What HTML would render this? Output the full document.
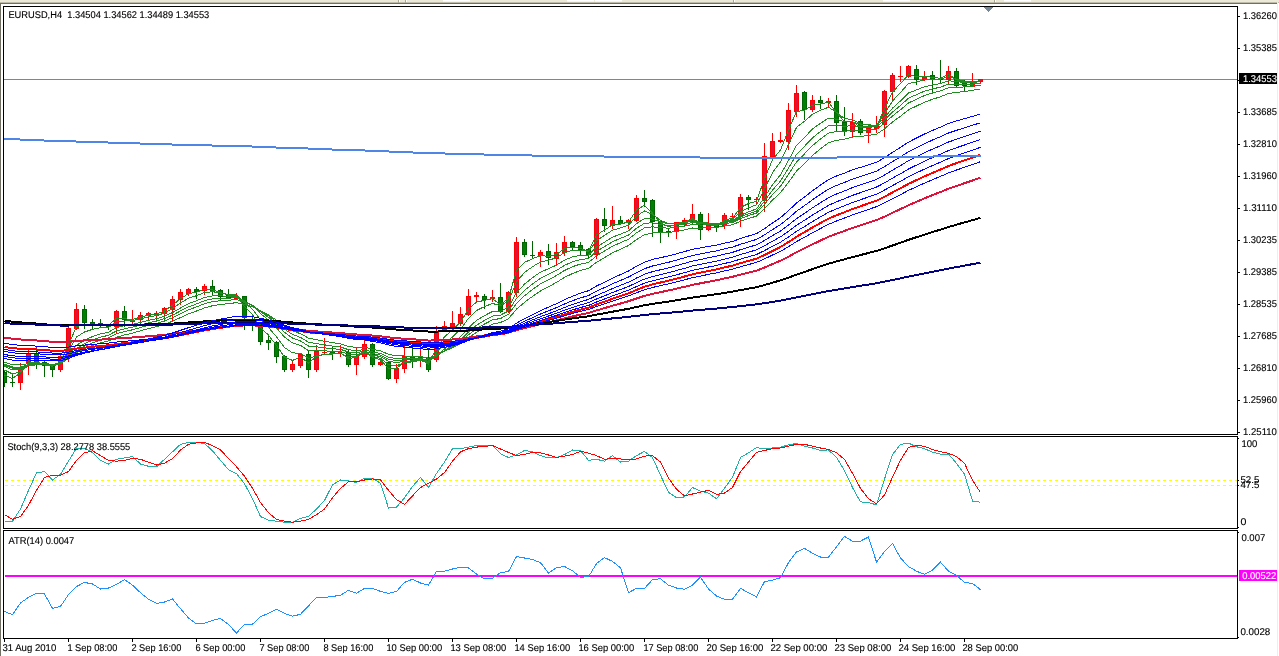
<!DOCTYPE html>
<html><head><meta charset="utf-8"><title>EURUSD,H4</title>
<style>
html,body{margin:0;padding:0;background:#fff;}
body{width:1279px;height:656px;overflow:hidden;position:relative;}
svg{display:block;position:absolute;left:0;top:0;}
</style></head><body>
<svg width="1279" height="656" viewBox="0 0 1279 656"><defs><clipPath id="cm"><rect x="4" y="7" width="1233" height="427"/></clipPath><clipPath id="cs"><rect x="4" y="437" width="1233" height="91"/></clipPath><clipPath id="ca"><rect x="4" y="531" width="1233" height="107"/></clipPath></defs><g clip-path="url(#cm)"><rect x="4" y="79" width="1233" height="1" fill="#778899"/><rect x="4" y="371" width="1" height="16" fill="#006400"/><rect x="2" y="372" width="5" height="11" fill="#006400"/><rect x="3" y="373" width="3" height="9" fill="#008000"/><rect x="12" y="374" width="1" height="13" fill="#006400"/><rect x="10" y="382" width="5" height="1" fill="#006400"/><rect x="20" y="363" width="1" height="27" fill="#ff0000"/><rect x="18" y="367" width="5" height="16" fill="#ff0000"/><rect x="19" y="368" width="3" height="14" fill="#dc143c"/><rect x="28" y="349" width="1" height="26" fill="#ff0000"/><rect x="26" y="353" width="5" height="10" fill="#ff0000"/><rect x="27" y="354" width="3" height="8" fill="#dc143c"/><rect x="36" y="346" width="1" height="23" fill="#006400"/><rect x="34" y="353" width="5" height="10" fill="#006400"/><rect x="35" y="354" width="3" height="8" fill="#008000"/><rect x="44" y="361" width="1" height="16" fill="#006400"/><rect x="42" y="362" width="5" height="4" fill="#006400"/><rect x="43" y="363" width="3" height="2" fill="#008000"/><rect x="52" y="364" width="1" height="13" fill="#006400"/><rect x="50" y="366" width="5" height="4" fill="#006400"/><rect x="51" y="367" width="3" height="2" fill="#008000"/><rect x="60" y="355" width="1" height="17" fill="#ff0000"/><rect x="58" y="356" width="5" height="14" fill="#ff0000"/><rect x="59" y="357" width="3" height="12" fill="#dc143c"/><rect x="68" y="326" width="1" height="36" fill="#ff0000"/><rect x="66" y="328" width="5" height="29" fill="#ff0000"/><rect x="67" y="329" width="3" height="27" fill="#dc143c"/><rect x="76" y="303" width="1" height="27" fill="#ff0000"/><rect x="74" y="309" width="5" height="20" fill="#ff0000"/><rect x="75" y="310" width="3" height="18" fill="#dc143c"/><rect x="84" y="305" width="1" height="24" fill="#006400"/><rect x="82" y="309" width="5" height="14" fill="#006400"/><rect x="83" y="310" width="3" height="12" fill="#008000"/><rect x="92" y="319" width="1" height="10" fill="#006400"/><rect x="90" y="322" width="5" height="3" fill="#006400"/><rect x="91" y="323" width="3" height="1" fill="#008000"/><rect x="100" y="319" width="1" height="9" fill="#006400"/><rect x="98" y="323" width="5" height="2" fill="#006400"/><rect x="108" y="325" width="1" height="5" fill="#006400"/><rect x="106" y="326" width="5" height="1" fill="#006400"/><rect x="116" y="310" width="1" height="23" fill="#ff0000"/><rect x="114" y="311" width="5" height="16" fill="#ff0000"/><rect x="115" y="312" width="3" height="14" fill="#dc143c"/><rect x="124" y="306" width="1" height="21" fill="#006400"/><rect x="122" y="311" width="5" height="9" fill="#006400"/><rect x="123" y="312" width="3" height="7" fill="#008000"/><rect x="132" y="310" width="1" height="15" fill="#ff0000"/><rect x="130" y="320" width="5" height="2" fill="#ff0000"/><rect x="140" y="312" width="1" height="12" fill="#ff0000"/><rect x="138" y="315" width="5" height="5" fill="#ff0000"/><rect x="139" y="316" width="3" height="3" fill="#dc143c"/><rect x="148" y="312" width="1" height="9" fill="#ff0000"/><rect x="146" y="313" width="5" height="3" fill="#ff0000"/><rect x="147" y="314" width="3" height="1" fill="#dc143c"/><rect x="156" y="311" width="1" height="9" fill="#ff0000"/><rect x="154" y="313" width="5" height="3" fill="#ff0000"/><rect x="155" y="314" width="3" height="1" fill="#dc143c"/><rect x="164" y="307" width="1" height="15" fill="#ff0000"/><rect x="162" y="308" width="5" height="6" fill="#ff0000"/><rect x="163" y="309" width="3" height="4" fill="#dc143c"/><rect x="172" y="296" width="1" height="26" fill="#ff0000"/><rect x="170" y="299" width="5" height="11" fill="#ff0000"/><rect x="171" y="300" width="3" height="9" fill="#dc143c"/><rect x="180" y="289" width="1" height="16" fill="#ff0000"/><rect x="178" y="292" width="5" height="8" fill="#ff0000"/><rect x="179" y="293" width="3" height="6" fill="#dc143c"/><rect x="188" y="288" width="1" height="8" fill="#ff0000"/><rect x="186" y="289" width="5" height="5" fill="#ff0000"/><rect x="187" y="290" width="3" height="3" fill="#dc143c"/><rect x="196" y="287" width="1" height="12" fill="#006400"/><rect x="194" y="289" width="5" height="3" fill="#006400"/><rect x="195" y="290" width="3" height="1" fill="#008000"/><rect x="204" y="284" width="1" height="11" fill="#ff0000"/><rect x="202" y="286" width="5" height="5" fill="#ff0000"/><rect x="203" y="287" width="3" height="3" fill="#dc143c"/><rect x="212" y="280" width="1" height="15" fill="#006400"/><rect x="210" y="286" width="5" height="6" fill="#006400"/><rect x="211" y="287" width="3" height="4" fill="#008000"/><rect x="220" y="289" width="1" height="12" fill="#006400"/><rect x="218" y="290" width="5" height="7" fill="#006400"/><rect x="219" y="291" width="3" height="5" fill="#008000"/><rect x="228" y="289" width="1" height="10" fill="#006400"/><rect x="226" y="294" width="5" height="5" fill="#006400"/><rect x="227" y="295" width="3" height="3" fill="#008000"/><rect x="236" y="293" width="1" height="7" fill="#ff0000"/><rect x="234" y="296" width="5" height="3" fill="#ff0000"/><rect x="235" y="297" width="3" height="1" fill="#dc143c"/><rect x="244" y="296" width="1" height="34" fill="#006400"/><rect x="242" y="296" width="5" height="22" fill="#006400"/><rect x="243" y="297" width="3" height="20" fill="#008000"/><rect x="252" y="317" width="1" height="14" fill="#006400"/><rect x="250" y="322" width="5" height="2" fill="#006400"/><rect x="260" y="323" width="1" height="22" fill="#006400"/><rect x="258" y="324" width="5" height="18" fill="#006400"/><rect x="259" y="325" width="3" height="16" fill="#008000"/><rect x="268" y="334" width="1" height="16" fill="#006400"/><rect x="266" y="340" width="5" height="3" fill="#006400"/><rect x="267" y="341" width="3" height="1" fill="#008000"/><rect x="276" y="341" width="1" height="22" fill="#006400"/><rect x="274" y="342" width="5" height="15" fill="#006400"/><rect x="275" y="343" width="3" height="13" fill="#008000"/><rect x="284" y="355" width="1" height="17" fill="#006400"/><rect x="282" y="356" width="5" height="14" fill="#006400"/><rect x="283" y="357" width="3" height="12" fill="#008000"/><rect x="292" y="361" width="1" height="11" fill="#ff0000"/><rect x="290" y="364" width="5" height="6" fill="#ff0000"/><rect x="291" y="365" width="3" height="4" fill="#dc143c"/><rect x="300" y="353" width="1" height="15" fill="#ff0000"/><rect x="298" y="354" width="5" height="12" fill="#ff0000"/><rect x="299" y="355" width="3" height="10" fill="#dc143c"/><rect x="308" y="350" width="1" height="28" fill="#006400"/><rect x="306" y="354" width="5" height="16" fill="#006400"/><rect x="307" y="355" width="3" height="14" fill="#008000"/><rect x="316" y="345" width="1" height="27" fill="#ff0000"/><rect x="314" y="351" width="5" height="19" fill="#ff0000"/><rect x="315" y="352" width="3" height="17" fill="#dc143c"/><rect x="324" y="338" width="1" height="16" fill="#ff0000"/><rect x="322" y="352" width="5" height="1" fill="#ff0000"/><rect x="332" y="347" width="1" height="13" fill="#006400"/><rect x="330" y="351" width="5" height="3" fill="#006400"/><rect x="331" y="352" width="3" height="1" fill="#008000"/><rect x="340" y="345" width="1" height="12" fill="#ff0000"/><rect x="338" y="352" width="5" height="1" fill="#ff0000"/><rect x="348" y="350" width="1" height="17" fill="#006400"/><rect x="346" y="352" width="5" height="13" fill="#006400"/><rect x="347" y="353" width="3" height="11" fill="#008000"/><rect x="356" y="348" width="1" height="27" fill="#ff0000"/><rect x="354" y="356" width="5" height="9" fill="#ff0000"/><rect x="355" y="357" width="3" height="7" fill="#dc143c"/><rect x="364" y="340" width="1" height="19" fill="#ff0000"/><rect x="362" y="344" width="5" height="13" fill="#ff0000"/><rect x="363" y="345" width="3" height="11" fill="#dc143c"/><rect x="372" y="343" width="1" height="24" fill="#006400"/><rect x="370" y="344" width="5" height="21" fill="#006400"/><rect x="371" y="345" width="3" height="19" fill="#008000"/><rect x="380" y="359" width="1" height="7" fill="#ff0000"/><rect x="378" y="362" width="5" height="3" fill="#ff0000"/><rect x="379" y="363" width="3" height="1" fill="#dc143c"/><rect x="388" y="361" width="1" height="19" fill="#006400"/><rect x="386" y="362" width="5" height="17" fill="#006400"/><rect x="387" y="363" width="3" height="15" fill="#008000"/><rect x="396" y="364" width="1" height="19" fill="#ff0000"/><rect x="394" y="368" width="5" height="11" fill="#ff0000"/><rect x="395" y="369" width="3" height="9" fill="#dc143c"/><rect x="404" y="346" width="1" height="27" fill="#ff0000"/><rect x="402" y="356" width="5" height="13" fill="#ff0000"/><rect x="403" y="357" width="3" height="11" fill="#dc143c"/><rect x="412" y="348" width="1" height="20" fill="#006400"/><rect x="410" y="356" width="5" height="6" fill="#006400"/><rect x="411" y="357" width="3" height="4" fill="#008000"/><rect x="420" y="347" width="1" height="20" fill="#ff0000"/><rect x="418" y="357" width="5" height="2" fill="#ff0000"/><rect x="428" y="350" width="1" height="22" fill="#006400"/><rect x="426" y="357" width="5" height="13" fill="#006400"/><rect x="427" y="358" width="3" height="11" fill="#008000"/><rect x="436" y="326" width="1" height="36" fill="#ff0000"/><rect x="434" y="332" width="5" height="28" fill="#ff0000"/><rect x="435" y="333" width="3" height="26" fill="#dc143c"/><rect x="444" y="321" width="1" height="11" fill="#ff0000"/><rect x="442" y="326" width="5" height="5" fill="#ff0000"/><rect x="443" y="327" width="3" height="3" fill="#dc143c"/><rect x="452" y="311" width="1" height="18" fill="#ff0000"/><rect x="450" y="323" width="5" height="4" fill="#ff0000"/><rect x="451" y="324" width="3" height="2" fill="#dc143c"/><rect x="460" y="307" width="1" height="19" fill="#ff0000"/><rect x="458" y="314" width="5" height="10" fill="#ff0000"/><rect x="459" y="315" width="3" height="8" fill="#dc143c"/><rect x="468" y="289" width="1" height="27" fill="#ff0000"/><rect x="466" y="296" width="5" height="19" fill="#ff0000"/><rect x="467" y="297" width="3" height="17" fill="#dc143c"/><rect x="476" y="292" width="1" height="10" fill="#ff0000"/><rect x="474" y="295" width="5" height="2" fill="#ff0000"/><rect x="484" y="294" width="1" height="15" fill="#006400"/><rect x="482" y="296" width="5" height="4" fill="#006400"/><rect x="483" y="297" width="3" height="2" fill="#008000"/><rect x="492" y="290" width="1" height="12" fill="#ff0000"/><rect x="490" y="297" width="5" height="2" fill="#ff0000"/><rect x="500" y="283" width="1" height="30" fill="#006400"/><rect x="498" y="297" width="5" height="15" fill="#006400"/><rect x="499" y="298" width="3" height="13" fill="#008000"/><rect x="508" y="291" width="1" height="22" fill="#ff0000"/><rect x="506" y="292" width="5" height="20" fill="#ff0000"/><rect x="507" y="293" width="3" height="18" fill="#dc143c"/><rect x="516" y="237" width="1" height="60" fill="#ff0000"/><rect x="514" y="242" width="5" height="51" fill="#ff0000"/><rect x="515" y="243" width="3" height="49" fill="#dc143c"/><rect x="524" y="239" width="1" height="18" fill="#006400"/><rect x="522" y="242" width="5" height="13" fill="#006400"/><rect x="523" y="243" width="3" height="11" fill="#008000"/><rect x="532" y="241" width="1" height="18" fill="#006400"/><rect x="530" y="255" width="5" height="1" fill="#006400"/><rect x="540" y="250" width="1" height="17" fill="#ff0000"/><rect x="538" y="252" width="5" height="4" fill="#ff0000"/><rect x="539" y="253" width="3" height="2" fill="#dc143c"/><rect x="548" y="244" width="1" height="21" fill="#006400"/><rect x="546" y="251" width="5" height="7" fill="#006400"/><rect x="547" y="252" width="3" height="5" fill="#008000"/><rect x="556" y="243" width="1" height="22" fill="#ff0000"/><rect x="554" y="252" width="5" height="7" fill="#ff0000"/><rect x="555" y="253" width="3" height="5" fill="#dc143c"/><rect x="564" y="236" width="1" height="20" fill="#ff0000"/><rect x="562" y="242" width="5" height="11" fill="#ff0000"/><rect x="563" y="243" width="3" height="9" fill="#dc143c"/><rect x="572" y="241" width="1" height="9" fill="#006400"/><rect x="570" y="242" width="5" height="5" fill="#006400"/><rect x="571" y="243" width="3" height="3" fill="#008000"/><rect x="580" y="242" width="1" height="14" fill="#006400"/><rect x="578" y="245" width="5" height="5" fill="#006400"/><rect x="579" y="246" width="3" height="3" fill="#008000"/><rect x="588" y="248" width="1" height="11" fill="#006400"/><rect x="586" y="249" width="5" height="6" fill="#006400"/><rect x="587" y="250" width="3" height="4" fill="#008000"/><rect x="596" y="218" width="1" height="41" fill="#ff0000"/><rect x="594" y="219" width="5" height="36" fill="#ff0000"/><rect x="595" y="220" width="3" height="34" fill="#dc143c"/><rect x="604" y="208" width="1" height="24" fill="#006400"/><rect x="602" y="219" width="5" height="7" fill="#006400"/><rect x="603" y="220" width="3" height="5" fill="#008000"/><rect x="612" y="206" width="1" height="23" fill="#ff0000"/><rect x="610" y="220" width="5" height="6" fill="#ff0000"/><rect x="611" y="221" width="3" height="4" fill="#dc143c"/><rect x="620" y="216" width="1" height="9" fill="#006400"/><rect x="618" y="220" width="5" height="4" fill="#006400"/><rect x="619" y="221" width="3" height="2" fill="#008000"/><rect x="628" y="219" width="1" height="10" fill="#ff0000"/><rect x="626" y="220" width="5" height="3" fill="#ff0000"/><rect x="627" y="221" width="3" height="1" fill="#dc143c"/><rect x="636" y="195" width="1" height="27" fill="#ff0000"/><rect x="634" y="198" width="5" height="23" fill="#ff0000"/><rect x="635" y="199" width="3" height="21" fill="#dc143c"/><rect x="644" y="190" width="1" height="17" fill="#006400"/><rect x="642" y="198" width="5" height="4" fill="#006400"/><rect x="643" y="199" width="3" height="2" fill="#008000"/><rect x="652" y="199" width="1" height="38" fill="#006400"/><rect x="650" y="200" width="5" height="22" fill="#006400"/><rect x="651" y="201" width="3" height="20" fill="#008000"/><rect x="660" y="220" width="1" height="23" fill="#006400"/><rect x="658" y="221" width="5" height="12" fill="#006400"/><rect x="659" y="222" width="3" height="10" fill="#008000"/><rect x="668" y="228" width="1" height="9" fill="#006400"/><rect x="666" y="231" width="5" height="1" fill="#006400"/><rect x="676" y="222" width="1" height="17" fill="#ff0000"/><rect x="674" y="222" width="5" height="10" fill="#ff0000"/><rect x="675" y="223" width="3" height="8" fill="#dc143c"/><rect x="684" y="218" width="1" height="9" fill="#ff0000"/><rect x="682" y="220" width="5" height="5" fill="#ff0000"/><rect x="683" y="221" width="3" height="3" fill="#dc143c"/><rect x="692" y="204" width="1" height="21" fill="#ff0000"/><rect x="690" y="214" width="5" height="8" fill="#ff0000"/><rect x="691" y="215" width="3" height="6" fill="#dc143c"/><rect x="700" y="212" width="1" height="28" fill="#006400"/><rect x="698" y="214" width="5" height="16" fill="#006400"/><rect x="699" y="215" width="3" height="14" fill="#008000"/><rect x="708" y="213" width="1" height="18" fill="#ff0000"/><rect x="706" y="224" width="5" height="6" fill="#ff0000"/><rect x="707" y="225" width="3" height="4" fill="#dc143c"/><rect x="716" y="223" width="1" height="9" fill="#006400"/><rect x="714" y="225" width="5" height="3" fill="#006400"/><rect x="715" y="226" width="3" height="1" fill="#008000"/><rect x="724" y="213" width="1" height="16" fill="#ff0000"/><rect x="722" y="215" width="5" height="11" fill="#ff0000"/><rect x="723" y="216" width="3" height="9" fill="#dc143c"/><rect x="732" y="213" width="1" height="7" fill="#ff0000"/><rect x="730" y="216" width="5" height="1" fill="#ff0000"/><rect x="740" y="194" width="1" height="33" fill="#ff0000"/><rect x="738" y="197" width="5" height="20" fill="#ff0000"/><rect x="739" y="198" width="3" height="18" fill="#dc143c"/><rect x="748" y="195" width="1" height="15" fill="#006400"/><rect x="746" y="197" width="5" height="3" fill="#006400"/><rect x="747" y="198" width="3" height="1" fill="#008000"/><rect x="756" y="197" width="1" height="8" fill="#ff0000"/><rect x="754" y="199" width="5" height="1" fill="#ff0000"/><rect x="764" y="143" width="1" height="69" fill="#ff0000"/><rect x="762" y="156" width="5" height="45" fill="#ff0000"/><rect x="763" y="157" width="3" height="43" fill="#dc143c"/><rect x="772" y="133" width="1" height="25" fill="#ff0000"/><rect x="770" y="141" width="5" height="16" fill="#ff0000"/><rect x="771" y="142" width="3" height="14" fill="#dc143c"/><rect x="780" y="132" width="1" height="11" fill="#ff0000"/><rect x="778" y="140" width="5" height="2" fill="#ff0000"/><rect x="788" y="103" width="1" height="47" fill="#ff0000"/><rect x="786" y="110" width="5" height="32" fill="#ff0000"/><rect x="787" y="111" width="3" height="30" fill="#dc143c"/><rect x="796" y="85" width="1" height="32" fill="#ff0000"/><rect x="794" y="93" width="5" height="19" fill="#ff0000"/><rect x="795" y="94" width="3" height="17" fill="#dc143c"/><rect x="804" y="91" width="1" height="29" fill="#006400"/><rect x="802" y="92" width="5" height="18" fill="#006400"/><rect x="803" y="93" width="3" height="16" fill="#008000"/><rect x="812" y="95" width="1" height="17" fill="#ff0000"/><rect x="810" y="100" width="5" height="10" fill="#ff0000"/><rect x="811" y="101" width="3" height="8" fill="#dc143c"/><rect x="820" y="96" width="1" height="13" fill="#006400"/><rect x="818" y="100" width="5" height="3" fill="#006400"/><rect x="819" y="101" width="3" height="1" fill="#008000"/><rect x="828" y="98" width="1" height="9" fill="#ff0000"/><rect x="826" y="101" width="5" height="2" fill="#ff0000"/><rect x="836" y="95" width="1" height="37" fill="#006400"/><rect x="834" y="101" width="5" height="22" fill="#006400"/><rect x="835" y="102" width="3" height="20" fill="#008000"/><rect x="844" y="107" width="1" height="29" fill="#006400"/><rect x="842" y="122" width="5" height="10" fill="#006400"/><rect x="843" y="123" width="3" height="8" fill="#008000"/><rect x="852" y="113" width="1" height="25" fill="#ff0000"/><rect x="850" y="122" width="5" height="10" fill="#ff0000"/><rect x="851" y="123" width="3" height="8" fill="#dc143c"/><rect x="860" y="119" width="1" height="16" fill="#006400"/><rect x="858" y="121" width="5" height="12" fill="#006400"/><rect x="859" y="122" width="3" height="10" fill="#008000"/><rect x="868" y="126" width="1" height="17" fill="#ff0000"/><rect x="866" y="128" width="5" height="5" fill="#ff0000"/><rect x="867" y="129" width="3" height="3" fill="#dc143c"/><rect x="876" y="116" width="1" height="17" fill="#ff0000"/><rect x="874" y="126" width="5" height="3" fill="#ff0000"/><rect x="875" y="127" width="3" height="1" fill="#dc143c"/><rect x="884" y="90" width="1" height="47" fill="#ff0000"/><rect x="882" y="91" width="5" height="34" fill="#ff0000"/><rect x="883" y="92" width="3" height="32" fill="#dc143c"/><rect x="892" y="73" width="1" height="29" fill="#ff0000"/><rect x="890" y="75" width="5" height="17" fill="#ff0000"/><rect x="891" y="76" width="3" height="15" fill="#dc143c"/><rect x="900" y="66" width="1" height="16" fill="#ff0000"/><rect x="898" y="76" width="5" height="1" fill="#ff0000"/><rect x="908" y="65" width="1" height="13" fill="#ff0000"/><rect x="906" y="66" width="5" height="11" fill="#ff0000"/><rect x="907" y="67" width="3" height="9" fill="#dc143c"/><rect x="916" y="65" width="1" height="20" fill="#006400"/><rect x="914" y="69" width="5" height="11" fill="#006400"/><rect x="915" y="70" width="3" height="9" fill="#008000"/><rect x="924" y="71" width="1" height="10" fill="#ff0000"/><rect x="922" y="76" width="5" height="4" fill="#ff0000"/><rect x="923" y="77" width="3" height="2" fill="#dc143c"/><rect x="932" y="71" width="1" height="21" fill="#006400"/><rect x="930" y="75" width="5" height="5" fill="#006400"/><rect x="931" y="76" width="3" height="3" fill="#008000"/><rect x="940" y="60" width="1" height="24" fill="#006400"/><rect x="938" y="78" width="5" height="2" fill="#006400"/><rect x="948" y="66" width="1" height="19" fill="#ff0000"/><rect x="946" y="71" width="5" height="9" fill="#ff0000"/><rect x="947" y="72" width="3" height="7" fill="#dc143c"/><rect x="956" y="68" width="1" height="20" fill="#006400"/><rect x="954" y="71" width="5" height="15" fill="#006400"/><rect x="955" y="72" width="3" height="13" fill="#008000"/><rect x="964" y="80" width="1" height="12" fill="#006400"/><rect x="962" y="81" width="5" height="5" fill="#006400"/><rect x="963" y="82" width="3" height="3" fill="#008000"/><rect x="972" y="73" width="1" height="14" fill="#ff0000"/><rect x="970" y="82" width="5" height="5" fill="#ff0000"/><rect x="971" y="83" width="3" height="3" fill="#dc143c"/><rect x="980" y="79" width="1" height="4" fill="#ff0000"/><rect x="978" y="79" width="5" height="3" fill="#ff0000"/><rect x="979" y="80" width="3" height="1" fill="#dc143c"/><polyline points="4.5,375 12.5,378.5 20.5,372.75 28.5,362.88 36.5,362.44 44.5,363.72 52.5,366.56 60.5,361.08 68.5,344.54 76.5,326.77 84.5,324.33 92.5,324.17 100.5,324.28 108.5,325.39 116.5,318.2 124.5,318.8 132.5,319.4 140.5,317.2 148.5,315.1 156.5,314.05 164.5,311.02 172.5,305.21 180.5,298.61 188.5,293.68 196.5,292.14 204.5,289.07 212.5,289.83 220.5,292.72 228.5,295.11 236.5,295.55 244.5,306.48 252.5,314.74 260.5,327.67 268.5,335.08 276.5,345.54 284.5,357.15 292.5,360.45 300.5,357.1 308.5,362.92 316.5,356.76 324.5,354.38 332.5,353.69 340.5,352.85 348.5,358.62 356.5,357.11 364.5,350.76 372.5,357.58 380.5,359.79 388.5,368.64 396.5,368.32 404.5,362.16 412.5,361.38 420.5,359.19 428.5,364.3 436.5,348.15 444.5,336.87 452.5,329.94 460.5,322.17 468.5,309.08 476.5,302.04 484.5,300.4 492.5,298.7 500.5,304.65 508.5,298.32 516.5,270.41 524.5,262.41 532.5,258.7 540.5,255.6 548.5,256.3 556.5,254.4 564.5,248.45 572.5,247.23 580.5,248.31 588.5,251.36 596.5,235.05 604.5,230.03 612.5,225.01 620.5,224.01 628.5,222 636.5,210 644.5,205.3 652.5,213.15 660.5,222.58 668.5,226.79 676.5,224.64 684.5,222.32 692.5,218.36 700.5,223.68 708.5,223.84 716.5,225.42 724.5,220.21 732.5,218.11 740.5,207.55 748.5,203.48 756.5,201.24 764.5,178.62 772.5,159.81 780.5,149.9 788.5,129.95 796.5,111.48 804.5,110.44 812.5,105.22 820.5,103.86 828.5,102.43 836.5,112.46 844.5,121.73 852.5,121.87 860.5,127.18 868.5,127.34 876.5,126.67 884.5,108.84 892.5,91.92 900.5,83.71 908.5,74.65 916.5,76.7 924.5,76.15 932.5,77.45 940.5,78.23 948.5,74.41 956.5,79.71 964.5,82.35 972.5,82.43 980.5,80.71" fill="none" stroke="#228b22" stroke-width="1" shape-rendering="crispEdges"/><polyline points="4.5,370 12.5,374 20.5,371.67 28.5,365.44 36.5,364.3 44.5,364.53 52.5,366.15 60.5,362.64 68.5,351.09 76.5,337.06 84.5,332.01 92.5,329.34 100.5,327.69 108.5,327.29 116.5,321.86 124.5,321.04 132.5,320.69 140.5,318.8 148.5,316.86 156.5,315.58 164.5,313.05 172.5,308.5 180.5,303 188.5,298.25 196.5,295.7 204.5,292.47 212.5,291.84 220.5,293.1 228.5,294.56 236.5,295.04 244.5,302.5 252.5,309.33 260.5,319.75 268.5,327.34 276.5,336.89 284.5,347.51 292.5,352.92 300.5,353.2 308.5,358.38 316.5,355.79 324.5,354.53 332.5,354.02 340.5,353.34 348.5,357.03 356.5,356.55 364.5,352.5 372.5,356.47 380.5,358.31 388.5,364.71 396.5,365.81 404.5,362.54 412.5,361.89 420.5,360.26 428.5,363.31 436.5,352.87 444.5,343.78 452.5,336.85 460.5,329.37 468.5,318.25 476.5,310.5 484.5,306.58 492.5,303.39 500.5,305.79 508.5,301.19 516.5,281.63 524.5,272.55 532.5,266.7 540.5,261.97 548.5,260.31 556.5,257.71 564.5,252.64 572.5,250.43 580.5,250.08 588.5,251.52 596.5,240.6 604.5,235.4 612.5,230.27 620.5,227.84 628.5,225.23 636.5,216.15 644.5,210.97 652.5,214.31 660.5,220.21 668.5,223.81 676.5,223.37 684.5,222.25 692.5,219.63 700.5,222.75 708.5,223.17 716.5,224.45 724.5,221.3 732.5,219.53 740.5,212.02 748.5,207.81 756.5,204.88 764.5,188.58 772.5,172.72 780.5,161.82 788.5,144.54 796.5,127.36 804.5,121.37 812.5,114.25 820.5,110.33 828.5,107.22 836.5,112.31 844.5,118.54 852.5,119.7 860.5,123.96 868.5,125.14 876.5,125.43 884.5,113.95 892.5,100.97 900.5,92.48 908.5,83.52 916.5,81.93 924.5,79.82 932.5,79.46 940.5,79.31 948.5,76.41 956.5,79.27 964.5,81.18 972.5,81.62 980.5,80.75" fill="none" stroke="#228b22" stroke-width="1" shape-rendering="crispEdges"/><polyline points="4.5,366.5 12.5,369.94 20.5,369.29 28.5,365.67 36.5,364.85 44.5,364.89 52.5,365.89 60.5,363.6 68.5,355.69 76.5,345.32 84.5,340.11 92.5,336.53 100.5,333.84 108.5,332.21 116.5,327.49 124.5,325.69 132.5,324.43 140.5,322.33 148.5,320.26 156.5,318.65 164.5,316.28 172.5,312.53 180.5,307.97 188.5,303.7 196.5,300.79 204.5,297.5 212.5,295.97 220.5,295.89 228.5,296.24 236.5,296.19 244.5,300.9 252.5,305.81 260.5,313.54 268.5,319.98 276.5,327.98 284.5,337.04 292.5,342.98 300.5,345.37 308.5,350.57 316.5,350.57 324.5,350.89 332.5,351.36 340.5,351.5 348.5,354.37 356.5,354.64 364.5,352.37 372.5,355.04 380.5,356.59 388.5,361.23 396.5,362.74 404.5,361.24 412.5,361.1 420.5,360.19 428.5,362.23 436.5,355.52 444.5,348.87 452.5,343.12 460.5,336.74 468.5,327.68 476.5,320.42 484.5,315.61 492.5,311.47 500.5,311.28 508.5,306.99 516.5,292.66 524.5,284.16 532.5,277.68 540.5,272.08 548.5,268.73 556.5,265.12 564.5,260.1 572.5,256.96 580.5,255.28 588.5,255.09 596.5,247.01 604.5,242.12 612.5,237.2 620.5,234.05 628.5,230.93 636.5,223.61 644.5,218.5 652.5,219.05 660.5,221.93 668.5,223.95 676.5,223.62 684.5,222.82 692.5,220.95 700.5,222.74 708.5,223.02 716.5,223.9 724.5,221.92 732.5,220.61 740.5,215.36 748.5,211.81 756.5,208.97 764.5,197.2 772.5,184.71 780.5,174.77 788.5,160.38 796.5,145.41 804.5,137.4 812.5,129.09 820.5,123.18 828.5,118.25 836.5,119.2 844.5,121.82 852.5,121.86 860.5,124.22 868.5,124.95 876.5,125.19 884.5,117.59 892.5,108.12 900.5,100.87 908.5,93.04 916.5,89.86 924.5,86.69 932.5,84.93 940.5,83.61 948.5,80.72 956.5,81.67 964.5,82.41 972.5,82.43 980.5,81.67" fill="none" stroke="#228b22" stroke-width="1" shape-rendering="crispEdges"/><polyline points="4.5,365.3 12.5,368.34 20.5,368.09 28.5,365.35 36.5,364.74 44.5,364.79 52.5,365.63 60.5,363.8 68.5,357.29 76.5,348.51 84.5,343.67 92.5,340.1 100.5,337.24 108.5,335.29 116.5,330.87 124.5,328.79 132.5,327.19 140.5,324.97 148.5,322.8 156.5,321.02 164.5,318.65 172.5,315.15 180.5,310.94 188.5,306.91 196.5,303.94 204.5,300.68 212.5,298.85 220.5,298.26 228.5,298.12 236.5,297.73 244.5,301.31 252.5,305.25 260.5,311.68 268.5,317.28 276.5,324.32 284.5,332.4 292.5,338.1 300.5,340.95 308.5,346 316.5,346.84 324.5,347.78 332.5,348.73 340.5,349.32 348.5,352.06 356.5,352.71 364.5,351.2 372.5,353.6 380.5,355.12 388.5,359.19 396.5,360.79 404.5,359.92 412.5,360.05 420.5,359.49 428.5,361.29 436.5,355.97 444.5,350.45 452.5,345.46 460.5,339.81 468.5,331.84 476.5,325.15 484.5,320.35 492.5,316.1 500.5,315.1 508.5,310.9 516.5,298.46 524.5,290.45 532.5,284.01 540.5,278.28 548.5,274.41 556.5,270.43 564.5,265.35 572.5,261.83 580.5,259.57 588.5,258.63 596.5,251.38 604.5,246.58 612.5,241.75 620.5,238.34 628.5,235.01 636.5,228.28 644.5,223.25 652.5,222.84 660.5,224.5 668.5,225.68 676.5,225.11 684.5,224.18 692.5,222.4 700.5,223.6 708.5,223.67 716.5,224.28 724.5,222.59 732.5,221.39 740.5,216.96 748.5,213.77 756.5,211.08 764.5,201.07 772.5,190.14 780.5,181.03 788.5,168.11 796.5,154.46 804.5,146.26 812.5,137.85 820.5,131.42 828.5,125.89 836.5,125.28 844.5,126.32 852.5,125.53 860.5,126.8 868.5,126.93 876.5,126.76 884.5,120.26 892.5,112.03 900.5,105.39 908.5,98.15 916.5,94.62 924.5,91.17 932.5,88.91 940.5,87.11 948.5,84.11 956.5,84.27 964.5,84.4 972.5,84.06 980.5,83.14" fill="none" stroke="#228b22" stroke-width="1" shape-rendering="crispEdges"/><polyline points="4.5,364.3 12.5,367.02 20.5,367.02 28.5,364.86 36.5,364.42 44.5,364.51 52.5,365.26 60.5,363.78 68.5,358.27 76.5,350.69 84.5,346.26 92.5,342.84 100.5,340 108.5,337.92 116.5,333.78 124.5,331.57 132.5,329.79 140.5,327.51 148.5,325.28 156.5,323.39 164.5,321.02 172.5,317.7 180.5,313.74 188.5,309.9 196.5,306.93 204.5,303.71 212.5,301.69 220.5,300.76 228.5,300.25 236.5,299.6 244.5,302.34 252.5,305.52 260.5,310.91 268.5,315.77 276.5,321.96 284.5,329.16 292.5,334.48 300.5,337.45 308.5,342.26 316.5,343.54 324.5,344.85 332.5,346.1 340.5,347.01 348.5,349.68 356.5,350.59 364.5,349.64 372.5,351.91 380.5,353.46 388.5,357.16 396.5,358.83 404.5,358.39 412.5,358.73 420.5,358.47 428.5,360.15 436.5,355.82 444.5,351.17 452.5,346.84 460.5,341.85 468.5,334.79 476.5,328.67 484.5,324.07 492.5,319.9 500.5,318.47 508.5,314.4 516.5,303.34 524.5,295.81 532.5,289.53 540.5,283.83 548.5,279.71 556.5,275.52 564.5,270.44 572.5,266.68 580.5,264.02 588.5,262.54 596.5,255.8 604.5,251.07 612.5,246.29 620.5,242.7 628.5,239.21 636.5,232.87 644.5,227.91 652.5,226.84 660.5,227.64 668.5,228.15 676.5,227.28 684.5,226.16 692.5,224.35 700.5,225.07 708.5,224.9 716.5,225.23 724.5,223.65 732.5,222.48 740.5,218.56 748.5,215.61 756.5,213.05 764.5,204.28 772.5,194.54 780.5,186.15 788.5,174.44 796.5,161.91 804.5,153.83 812.5,145.55 820.5,138.92 828.5,133.09 836.5,131.46 844.5,131.39 852.5,129.95 860.5,130.34 868.5,129.9 876.5,129.3 884.5,123.41 892.5,115.96 900.5,109.74 908.5,102.95 916.5,99.22 924.5,95.59 932.5,93 940.5,90.85 948.5,87.73 956.5,87.31 964.5,86.95 972.5,86.27 980.5,85.15" fill="none" stroke="#228b22" stroke-width="1" shape-rendering="crispEdges"/><polyline points="4.5,362.3 12.5,364.76 20.5,365.04 28.5,363.54 36.5,363.34 44.5,363.55 52.5,364.28 60.5,363.2 68.5,358.8 76.5,352.57 84.5,348.74 92.5,345.65 100.5,342.99 108.5,340.93 116.5,337.19 124.5,334.96 132.5,333.09 140.5,330.83 148.5,328.6 156.5,326.65 164.5,324.32 172.5,321.21 180.5,317.56 188.5,313.95 196.5,311.04 204.5,307.91 212.5,305.74 220.5,304.47 228.5,303.6 236.5,302.65 244.5,304.5 252.5,306.81 260.5,311.03 268.5,314.97 276.5,320.1 284.5,326.18 292.5,330.87 300.5,333.73 308.5,338.11 316.5,339.67 324.5,341.21 332.5,342.69 340.5,343.85 348.5,346.42 356.5,347.57 364.5,347.17 372.5,349.32 380.5,350.91 388.5,354.23 396.5,355.95 404.5,355.96 412.5,356.54 420.5,356.6 428.5,358.2 436.5,354.92 444.5,351.26 452.5,347.73 460.5,343.56 468.5,337.61 476.5,332.29 484.5,328.1 492.5,324.21 500.5,322.51 508.5,318.69 516.5,309.17 524.5,302.32 532.5,296.41 540.5,290.92 548.5,286.68 556.5,282.41 564.5,277.42 572.5,273.49 580.5,270.48 588.5,268.47 596.5,262.26 604.5,257.6 612.5,252.9 620.5,249.16 628.5,245.52 636.5,239.58 644.5,234.7 652.5,232.99 660.5,232.87 668.5,232.63 676.5,231.37 684.5,229.95 692.5,228 700.5,228.13 708.5,227.61 716.5,227.54 724.5,225.97 732.5,224.72 740.5,221.26 748.5,218.52 756.5,216.08 764.5,208.57 772.5,200.13 780.5,192.61 788.5,182.28 796.5,171.12 804.5,163.41 812.5,155.48 820.5,148.86 828.5,142.88 836.5,140.33 844.5,139.16 852.5,137.02 860.5,136.45 868.5,135.33 876.5,134.17 884.5,128.77 892.5,122.05 900.5,116.23 908.5,109.9 916.5,106.01 924.5,102.21 932.5,99.28 940.5,96.74 948.5,93.47 956.5,92.41 964.5,91.49 972.5,90.36 980.5,88.94" fill="none" stroke="#228b22" stroke-width="1" shape-rendering="crispEdges"/><polyline points="4.5,346.9 12.5,348.15 20.5,348.83 28.5,348.98 36.5,349.44 44.5,350 52.5,350.69 60.5,350.86 68.5,350.05 76.5,348.58 84.5,347.63 92.5,346.79 100.5,345.99 108.5,345.29 116.5,344.07 124.5,343.18 132.5,342.36 140.5,341.38 148.5,340.37 156.5,339.39 164.5,338.27 172.5,336.88 180.5,335.28 188.5,333.61 196.5,332.08 204.5,330.43 212.5,329.01 220.5,327.82 228.5,326.73 236.5,325.64 244.5,325.34 252.5,325.26 260.5,325.81 268.5,326.4 276.5,327.46 284.5,328.93 292.5,330.18 300.5,331.02 308.5,332.37 316.5,333.02 324.5,333.7 332.5,334.39 340.5,335.01 348.5,336.06 356.5,336.76 364.5,337.03 372.5,338.01 380.5,338.87 388.5,340.25 396.5,341.24 404.5,341.77 412.5,342.44 420.5,342.96 428.5,343.9 436.5,343.48 444.5,342.84 452.5,342.13 460.5,341.14 468.5,339.53 476.5,337.94 484.5,336.54 492.5,335.13 500.5,334.25 508.5,332.74 516.5,329.52 524.5,326.84 532.5,324.27 540.5,321.71 548.5,319.4 556.5,317.01 564.5,314.35 572.5,311.91 580.5,309.67 588.5,307.7 596.5,304.52 604.5,301.68 612.5,298.76 620.5,296.06 628.5,293.34 636.5,289.94 644.5,286.75 652.5,284.4 660.5,282.53 668.5,280.69 676.5,278.61 684.5,276.52 692.5,274.3 700.5,272.68 708.5,270.94 716.5,269.37 724.5,267.43 732.5,265.59 740.5,263.14 748.5,260.87 756.5,258.66 764.5,254.99 772.5,250.92 780.5,246.96 788.5,242.07 796.5,236.74 804.5,232.2 812.5,227.47 820.5,223.01 828.5,218.65 836.5,215.22 844.5,212.21 852.5,208.99 860.5,206.26 868.5,203.44 876.5,200.68 884.5,196.76 892.5,192.41 900.5,188.24 908.5,183.86 916.5,180.1 924.5,176.37 932.5,172.89 940.5,169.53 948.5,166 956.5,163.11 964.5,160.32 972.5,157.54 980.5,154.73" fill="none" stroke="#ff0000" stroke-width="2" shape-rendering="crispEdges"/><polyline points="4.5,337.5 12.5,338.7 20.5,339.47 28.5,339.83 36.5,340.43 44.5,341.1 52.5,341.86 60.5,342.23 68.5,341.85 76.5,340.96 84.5,340.45 92.5,340 100.5,339.58 108.5,339.23 116.5,338.46 124.5,337.95 132.5,337.46 140.5,336.86 148.5,336.21 156.5,335.58 164.5,334.84 172.5,333.88 180.5,332.75 188.5,331.56 196.5,330.45 204.5,329.25 212.5,328.21 220.5,327.32 228.5,326.52 236.5,325.69 244.5,325.47 252.5,325.4 260.5,325.81 268.5,326.26 276.5,327.07 284.5,328.19 292.5,329.16 300.5,329.82 308.5,330.87 316.5,331.41 324.5,331.96 332.5,332.53 340.5,333.06 348.5,333.9 356.5,334.49 364.5,334.76 372.5,335.56 380.5,336.27 388.5,337.39 396.5,338.22 404.5,338.7 412.5,339.29 420.5,339.77 428.5,340.57 436.5,340.34 444.5,339.94 452.5,339.48 460.5,338.8 468.5,337.65 476.5,336.49 484.5,335.47 492.5,334.43 500.5,333.79 508.5,332.66 516.5,330.22 524.5,328.17 532.5,326.2 540.5,324.2 548.5,322.39 556.5,320.5 564.5,318.39 572.5,316.43 580.5,314.62 588.5,312.99 596.5,310.45 604.5,308.14 612.5,305.76 620.5,303.52 628.5,301.26 636.5,298.47 644.5,295.83 652.5,293.8 660.5,292.13 668.5,290.48 676.5,288.64 684.5,286.79 692.5,284.83 700.5,283.32 708.5,281.72 716.5,280.24 724.5,278.48 732.5,276.79 740.5,274.63 748.5,272.6 756.5,270.61 764.5,267.51 772.5,264.09 780.5,260.74 788.5,256.67 796.5,252.24 804.5,248.38 812.5,244.37 820.5,240.54 828.5,236.77 836.5,233.68 844.5,230.9 852.5,227.96 860.5,225.38 868.5,222.73 876.5,220.12 884.5,216.63 892.5,212.8 900.5,209.09 908.5,205.21 916.5,201.79 924.5,198.38 932.5,195.15 940.5,192.01 948.5,188.73 956.5,185.93 964.5,183.2 972.5,180.48 980.5,177.73" fill="none" stroke="#dc143c" stroke-width="2" shape-rendering="crispEdges"/><polyline points="4.5,320.7 12.5,321.7 20.5,322.43 28.5,322.93 36.5,323.57 44.5,324.24 52.5,324.97 60.5,325.47 68.5,325.51 76.5,325.24 84.5,325.19 92.5,325.17 100.5,325.16 108.5,325.18 116.5,324.95 124.5,324.86 132.5,324.78 140.5,324.62 148.5,324.43 156.5,324.25 164.5,323.98 172.5,323.58 180.5,323.07 188.5,322.51 196.5,321.99 204.5,321.41 212.5,320.91 220.5,320.49 228.5,320.12 236.5,319.73 244.5,319.69 252.5,319.74 260.5,320.08 268.5,320.45 276.5,321.03 284.5,321.8 292.5,322.48 300.5,322.99 308.5,323.74 316.5,324.17 324.5,324.63 332.5,325.09 340.5,325.52 348.5,326.16 356.5,326.64 364.5,326.92 372.5,327.53 380.5,328.09 388.5,328.9 396.5,329.53 404.5,329.96 412.5,330.46 420.5,330.89 428.5,331.52 436.5,331.53 444.5,331.43 452.5,331.29 460.5,331.02 468.5,330.45 476.5,329.87 484.5,329.37 492.5,328.84 500.5,328.54 508.5,327.95 516.5,326.56 524.5,325.39 532.5,324.24 540.5,323.08 548.5,322 556.5,320.87 564.5,319.6 572.5,318.4 580.5,317.28 588.5,316.26 596.5,314.67 604.5,313.21 612.5,311.7 620.5,310.25 628.5,308.79 636.5,306.99 644.5,305.26 652.5,303.89 660.5,302.72 668.5,301.55 676.5,300.27 684.5,298.96 692.5,297.59 700.5,296.47 708.5,295.29 716.5,294.18 724.5,292.89 732.5,291.64 740.5,290.1 748.5,288.63 756.5,287.17 764.5,285.04 772.5,282.7 780.5,280.38 788.5,277.61 796.5,274.61 804.5,271.92 812.5,269.12 820.5,266.41 828.5,263.72 836.5,261.43 844.5,259.31 852.5,257.07 860.5,255.05 868.5,252.98 876.5,250.91 884.5,248.31 892.5,245.49 900.5,242.73 908.5,239.85 916.5,237.23 924.5,234.6 932.5,232.07 940.5,229.58 948.5,226.99 956.5,224.68 964.5,222.41 972.5,220.14 980.5,217.84" fill="none" stroke="#000000" stroke-width="2" shape-rendering="crispEdges"/><polyline points="4.5,323.2 12.5,323.68 20.5,324.03 28.5,324.27 36.5,324.57 44.5,324.9 52.5,325.26 60.5,325.51 68.5,325.53 76.5,325.4 84.5,325.37 92.5,325.36 100.5,325.35 108.5,325.36 116.5,325.24 124.5,325.19 132.5,325.15 140.5,325.07 148.5,324.97 156.5,324.87 164.5,324.74 172.5,324.53 180.5,324.27 188.5,323.98 196.5,323.71 204.5,323.4 212.5,323.13 220.5,322.91 228.5,322.7 236.5,322.48 244.5,322.44 252.5,322.45 260.5,322.6 268.5,322.76 276.5,323.03 284.5,323.4 292.5,323.73 300.5,323.97 308.5,324.34 316.5,324.55 324.5,324.77 332.5,325 340.5,325.22 348.5,325.54 356.5,325.78 364.5,325.94 372.5,326.25 380.5,326.54 388.5,326.95 396.5,327.29 404.5,327.52 412.5,327.79 420.5,328.03 428.5,328.36 436.5,328.39 444.5,328.37 452.5,328.33 460.5,328.21 468.5,327.95 476.5,327.68 484.5,327.45 492.5,327.2 500.5,327.07 508.5,326.78 516.5,326.1 524.5,325.51 532.5,324.94 540.5,324.35 548.5,323.8 556.5,323.22 564.5,322.57 572.5,321.94 580.5,321.35 588.5,320.81 596.5,319.98 604.5,319.21 612.5,318.4 620.5,317.63 628.5,316.83 636.5,315.87 644.5,314.93 652.5,314.17 660.5,313.5 668.5,312.83 676.5,312.09 684.5,311.34 692.5,310.56 700.5,309.89 708.5,309.19 716.5,308.53 724.5,307.77 732.5,307.02 740.5,306.12 748.5,305.26 756.5,304.39 764.5,303.19 772.5,301.87 780.5,300.55 788.5,299 796.5,297.33 804.5,295.8 812.5,294.21 820.5,292.65 828.5,291.09 836.5,289.72 844.5,288.43 852.5,287.08 860.5,285.82 868.5,284.53 876.5,283.24 884.5,281.68 892.5,280 900.5,278.34 908.5,276.61 916.5,275 924.5,273.38 932.5,271.8 940.5,270.23 948.5,268.61 956.5,267.11 964.5,265.63 972.5,264.14 980.5,262.64" fill="none" stroke="#000080" stroke-width="2" shape-rendering="crispEdges"/><polyline points="4.5,358.5 12.5,360.02 20.5,360.47 28.5,359.98 36.5,360.11 44.5,360.43 52.5,361.01 60.5,360.66 68.5,358.55 76.5,355.36 84.5,353.2 92.5,351.31 100.5,349.58 108.5,348.09 116.5,345.7 124.5,344 132.5,342.45 140.5,340.68 148.5,338.89 156.5,337.22 164.5,335.34 172.5,333.02 180.5,330.37 188.5,327.69 196.5,325.29 204.5,322.76 212.5,320.68 220.5,319.07 228.5,317.68 236.5,316.28 244.5,316.35 252.5,316.78 260.5,318.32 268.5,319.88 276.5,322.21 284.5,325.21 292.5,327.7 300.5,329.38 308.5,331.92 316.5,333.12 324.5,334.34 332.5,335.54 340.5,336.61 348.5,338.4 356.5,339.51 364.5,339.82 372.5,341.41 380.5,342.74 388.5,344.98 396.5,346.47 404.5,347.08 412.5,347.95 420.5,348.54 428.5,349.88 436.5,348.73 444.5,347.24 452.5,345.67 460.5,343.66 468.5,340.58 476.5,337.64 484.5,335.13 492.5,332.67 500.5,331.25 508.5,328.72 516.5,323.15 524.5,318.72 532.5,314.61 540.5,310.6 548.5,307.14 556.5,303.62 564.5,299.67 572.5,296.21 580.5,293.19 588.5,290.69 596.5,286.05 604.5,282.11 612.5,278.1 620.5,274.55 628.5,271.03 636.5,266.32 644.5,262.08 652.5,259.43 660.5,257.66 668.5,255.94 676.5,253.78 684.5,251.6 692.5,249.2 700.5,247.9 708.5,246.36 716.5,245.11 724.5,243.16 732.5,241.41 740.5,238.55 748.5,236.02 756.5,233.63 764.5,228.62 772.5,222.97 780.5,217.62 788.5,210.67 796.5,203.08 804.5,197.04 812.5,190.78 820.5,185.08 828.5,179.66 836.5,175.97 844.5,173.07 852.5,169.77 860.5,167.37 868.5,164.8 876.5,162.29 884.5,157.69 892.5,152.36 900.5,147.4 908.5,142.12 916.5,138.03 924.5,134.01 932.5,130.44 940.5,127.12 948.5,123.48 956.5,120.99 964.5,118.67 972.5,116.34 980.5,113.93" fill="none" stroke="#0000ff" stroke-width="1" shape-rendering="crispEdges"/><polyline points="4.5,356.4 12.5,357.82 20.5,358.33 28.5,358.04 36.5,358.26 44.5,358.63 52.5,359.23 60.5,359.03 68.5,357.3 76.5,354.62 84.5,352.8 92.5,351.2 100.5,349.71 108.5,348.42 116.5,346.34 124.5,344.85 132.5,343.47 140.5,341.89 148.5,340.28 156.5,338.77 164.5,337.06 172.5,334.96 180.5,332.58 188.5,330.14 196.5,327.95 204.5,325.62 212.5,323.67 220.5,322.11 228.5,320.74 236.5,319.37 244.5,319.26 252.5,319.47 260.5,320.64 268.5,321.86 276.5,323.75 284.5,326.25 292.5,328.34 300.5,329.75 308.5,331.91 316.5,332.95 324.5,334.01 332.5,335.07 340.5,336.01 348.5,337.58 356.5,338.58 364.5,338.91 372.5,340.32 380.5,341.53 388.5,343.53 396.5,344.89 404.5,345.5 412.5,346.34 420.5,346.93 428.5,348.18 436.5,347.28 444.5,346.08 452.5,344.8 460.5,343.11 468.5,340.49 476.5,337.96 484.5,335.79 492.5,333.63 500.5,332.35 508.5,330.11 516.5,325.24 524.5,321.31 532.5,317.62 540.5,314 548.5,310.84 556.5,307.6 564.5,303.98 572.5,300.76 580.5,297.91 588.5,295.49 596.5,291.23 604.5,287.55 612.5,283.79 620.5,280.42 628.5,277.06 636.5,272.67 644.5,268.66 652.5,266.02 660.5,264.13 668.5,262.29 676.5,260.08 684.5,257.85 692.5,255.44 700.5,253.97 708.5,252.3 716.5,250.9 724.5,248.9 732.5,247.07 740.5,244.29 748.5,241.8 756.5,239.42 764.5,234.79 772.5,229.58 780.5,224.6 788.5,218.23 796.5,211.28 804.5,205.62 812.5,199.75 820.5,194.35 828.5,189.16 836.5,185.46 844.5,182.43 852.5,179.07 860.5,176.49 868.5,173.76 876.5,171.11 884.5,166.66 892.5,161.57 900.5,156.79 908.5,151.72 916.5,147.67 924.5,143.66 932.5,140.06 940.5,136.66 948.5,132.99 956.5,130.33 964.5,127.81 972.5,125.29 980.5,122.72" fill="none" stroke="#0000ff" stroke-width="1" shape-rendering="crispEdges"/><polyline points="4.5,354.5 12.5,355.84 20.5,356.39 28.5,356.22 36.5,356.5 44.5,356.92 52.5,357.53 60.5,357.43 68.5,356 76.5,353.7 84.5,352.15 92.5,350.78 100.5,349.49 108.5,348.37 116.5,346.55 124.5,345.22 132.5,343.99 140.5,342.58 148.5,341.14 156.5,339.76 164.5,338.21 172.5,336.32 180.5,334.16 188.5,331.94 196.5,329.93 204.5,327.78 212.5,325.97 220.5,324.49 228.5,323.17 236.5,321.85 244.5,321.63 252.5,321.7 260.5,322.62 268.5,323.59 276.5,325.17 284.5,327.3 292.5,329.07 300.5,330.28 308.5,332.15 316.5,333.05 324.5,333.98 332.5,334.91 340.5,335.74 348.5,337.14 356.5,338.04 364.5,338.35 372.5,339.62 380.5,340.71 388.5,342.51 396.5,343.75 404.5,344.35 412.5,345.14 420.5,345.72 428.5,346.87 436.5,346.15 444.5,345.15 452.5,344.07 460.5,342.62 468.5,340.34 476.5,338.13 484.5,336.21 492.5,334.3 500.5,333.14 508.5,331.14 516.5,326.81 524.5,323.28 532.5,319.95 540.5,316.66 548.5,313.75 556.5,310.76 564.5,307.43 572.5,304.43 580.5,301.75 588.5,299.44 596.5,295.5 604.5,292.06 612.5,288.55 620.5,285.35 628.5,282.16 636.5,278.06 644.5,274.28 652.5,271.68 660.5,269.75 668.5,267.86 676.5,265.64 684.5,263.42 692.5,261.03 700.5,259.46 708.5,257.73 716.5,256.23 724.5,254.22 732.5,252.36 740.5,249.66 748.5,247.21 756.5,244.85 764.5,240.52 772.5,235.67 780.5,231 788.5,225.1 796.5,218.65 804.5,213.32 812.5,207.8 820.5,202.66 828.5,197.7 836.5,194.03 844.5,190.96 852.5,187.59 860.5,184.91 868.5,182.11 876.5,179.37 884.5,175.06 892.5,170.18 900.5,165.56 908.5,160.68 916.5,156.69 924.5,152.73 932.5,149.12 940.5,145.7 948.5,142.04 956.5,139.26 964.5,136.61 972.5,133.97 980.5,131.29" fill="none" stroke="#0000ff" stroke-width="1" shape-rendering="crispEdges"/><polyline points="4.5,351.5 12.5,352.83 20.5,353.44 28.5,353.42 36.5,353.8 44.5,354.28 52.5,354.94 60.5,354.97 68.5,353.8 76.5,351.85 84.5,350.55 92.5,349.39 100.5,348.31 108.5,347.36 116.5,345.78 124.5,344.63 132.5,343.56 140.5,342.32 148.5,341.04 156.5,339.82 164.5,338.44 172.5,336.74 180.5,334.8 188.5,332.8 196.5,330.96 204.5,329.01 212.5,327.34 220.5,325.96 228.5,324.72 236.5,323.47 244.5,323.21 252.5,323.2 260.5,323.95 268.5,324.76 276.5,326.12 284.5,327.97 292.5,329.53 300.5,330.58 308.5,332.24 316.5,333.04 324.5,333.86 332.5,334.7 340.5,335.45 348.5,336.71 356.5,337.53 364.5,337.83 372.5,338.98 380.5,339.98 388.5,341.61 396.5,342.76 404.5,343.34 412.5,344.09 420.5,344.65 428.5,345.72 436.5,345.13 444.5,344.28 452.5,343.35 460.5,342.1 468.5,340.09 476.5,338.13 484.5,336.42 492.5,334.7 500.5,333.66 508.5,331.85 516.5,327.96 524.5,324.76 532.5,321.73 540.5,318.72 548.5,316.04 556.5,313.27 564.5,310.2 572.5,307.41 580.5,304.88 588.5,302.69 596.5,299.04 604.5,295.82 612.5,292.52 620.5,289.5 628.5,286.48 636.5,282.63 644.5,279.07 652.5,276.54 660.5,274.6 668.5,272.71 676.5,270.53 684.5,268.33 692.5,265.98 700.5,264.38 708.5,262.62 716.5,261.07 724.5,259.07 732.5,257.2 740.5,254.58 748.5,252.18 756.5,249.87 764.5,245.79 772.5,241.23 780.5,236.83 788.5,231.31 796.5,225.3 804.5,220.26 812.5,215.03 820.5,210.14 828.5,205.4 836.5,201.79 844.5,198.71 852.5,195.38 860.5,192.64 868.5,189.81 876.5,187.04 884.5,182.86 892.5,178.17 900.5,173.71 908.5,169.01 916.5,165.08 924.5,161.19 932.5,157.61 940.5,154.19 948.5,150.56 956.5,147.71 964.5,144.98 972.5,142.26 980.5,139.51" fill="none" stroke="#0000ff" stroke-width="1" shape-rendering="crispEdges"/><polyline points="4.5,349.5 12.5,350.77 20.5,351.41 28.5,351.47 36.5,351.89 44.5,352.4 52.5,353.07 60.5,353.17 68.5,352.18 76.5,350.49 84.5,349.36 92.5,348.37 100.5,347.43 108.5,346.61 116.5,345.21 124.5,344.2 132.5,343.25 140.5,342.14 148.5,341 156.5,339.9 164.5,338.65 172.5,337.11 180.5,335.34 188.5,333.52 196.5,331.83 204.5,330.04 212.5,328.49 220.5,327.2 228.5,326.03 236.5,324.86 244.5,324.56 252.5,324.5 260.5,325.13 268.5,325.82 276.5,327 284.5,328.64 292.5,330.01 300.5,330.94 308.5,332.43 316.5,333.14 324.5,333.88 332.5,334.63 340.5,335.31 348.5,336.45 356.5,337.2 364.5,337.48 372.5,338.54 380.5,339.46 388.5,340.95 396.5,342.01 404.5,342.56 412.5,343.27 420.5,343.81 428.5,344.81 436.5,344.31 444.5,343.57 452.5,342.77 460.5,341.66 468.5,339.86 476.5,338.11 484.5,336.56 492.5,335.01 500.5,334.05 508.5,332.4 516.5,328.88 524.5,325.96 532.5,323.18 540.5,320.4 548.5,317.92 556.5,315.35 564.5,312.49 572.5,309.89 580.5,307.52 588.5,305.43 596.5,302.03 604.5,299.01 612.5,295.91 620.5,293.05 628.5,290.19 636.5,286.57 644.5,283.2 652.5,280.76 660.5,278.85 668.5,276.97 676.5,274.84 684.5,272.69 692.5,270.4 700.5,268.78 708.5,267.02 716.5,265.45 724.5,263.47 732.5,261.61 740.5,259.08 748.5,256.74 756.5,254.47 764.5,250.61 772.5,246.31 780.5,242.14 788.5,236.96 796.5,231.32 804.5,226.54 812.5,221.57 820.5,216.9 828.5,212.36 836.5,208.83 844.5,205.78 852.5,202.5 860.5,199.75 868.5,196.92 876.5,194.14 884.5,190.09 892.5,185.58 900.5,181.26 908.5,176.73 916.5,172.88 924.5,169.07 932.5,165.53 940.5,162.13 948.5,158.54 956.5,155.66 964.5,152.89 972.5,150.13 980.5,147.34" fill="none" stroke="#0000ff" stroke-width="1" shape-rendering="crispEdges"/><polyline points="4.5,343.3 12.5,344.57 20.5,345.3 28.5,345.56 36.5,346.1 44.5,346.72 52.5,347.46 60.5,347.73 68.5,347.08 76.5,345.83 84.5,345.05 92.5,344.36 100.5,343.7 108.5,343.14 116.5,342.08 124.5,341.34 132.5,340.64 140.5,339.8 148.5,338.92 156.5,338.07 164.5,337.09 172.5,335.85 180.5,334.41 188.5,332.92 196.5,331.53 204.5,330.04 212.5,328.74 220.5,327.66 228.5,326.67 236.5,325.66 244.5,325.39 252.5,325.31 260.5,325.81 268.5,326.36 276.5,327.33 284.5,328.69 292.5,329.84 300.5,330.62 308.5,331.87 316.5,332.49 324.5,333.13 332.5,333.78 340.5,334.38 348.5,335.36 356.5,336.02 364.5,336.3 372.5,337.22 380.5,338.03 388.5,339.33 396.5,340.27 404.5,340.78 412.5,341.43 420.5,341.94 428.5,342.84 436.5,342.49 444.5,341.93 452.5,341.31 460.5,340.43 468.5,338.97 476.5,337.53 484.5,336.26 492.5,334.97 500.5,334.17 508.5,332.79 516.5,329.83 524.5,327.36 532.5,324.99 540.5,322.61 548.5,320.46 556.5,318.23 564.5,315.75 572.5,313.46 580.5,311.36 588.5,309.49 596.5,306.52 604.5,303.84 612.5,301.1 620.5,298.53 628.5,295.96 636.5,292.75 644.5,289.73 652.5,287.47 660.5,285.65 668.5,283.86 676.5,281.85 684.5,279.82 692.5,277.68 700.5,276.08 708.5,274.37 716.5,272.82 724.5,270.93 732.5,269.12 740.5,266.76 748.5,264.55 756.5,262.4 764.5,258.91 772.5,255.05 780.5,251.28 788.5,246.64 796.5,241.61 804.5,237.27 812.5,232.77 820.5,228.5 828.5,224.32 836.5,220.98 844.5,218.03 852.5,214.88 860.5,212.18 868.5,209.4 876.5,206.67 884.5,202.88 892.5,198.68 900.5,194.65 908.5,190.41 916.5,186.75 924.5,183.11 932.5,179.69 940.5,176.39 948.5,172.92 956.5,170.04 964.5,167.25 972.5,164.47 980.5,161.67" fill="none" stroke="#0000ff" stroke-width="1" shape-rendering="crispEdges"/><rect x="3" y="138" width="17" height="2" fill="#4f86e6"/><rect x="20" y="139" width="24" height="2" fill="#4f86e6"/><rect x="44" y="140" width="32" height="2" fill="#4f86e6"/><rect x="76" y="141" width="32" height="2" fill="#4f86e6"/><rect x="108" y="142" width="32" height="2" fill="#4f86e6"/><rect x="140" y="143" width="32" height="2" fill="#4f86e6"/><rect x="172" y="144" width="40" height="2" fill="#4f86e6"/><rect x="212" y="145" width="40" height="2" fill="#4f86e6"/><rect x="252" y="146" width="24" height="2" fill="#4f86e6"/><rect x="276" y="147" width="32" height="2" fill="#4f86e6"/><rect x="308" y="148" width="24" height="2" fill="#4f86e6"/><rect x="332" y="149" width="33" height="2" fill="#4f86e6"/><rect x="365" y="150" width="24" height="2" fill="#4f86e6"/><rect x="389" y="151" width="24" height="2" fill="#4f86e6"/><rect x="413" y="152" width="32" height="2" fill="#4f86e6"/><rect x="445" y="153" width="39" height="2" fill="#4f86e6"/><rect x="484" y="154" width="48" height="2" fill="#4f86e6"/><rect x="532" y="155" width="72" height="2" fill="#4f86e6"/><rect x="604" y="156" width="96" height="2" fill="#4f86e6"/><rect x="700" y="157" width="137" height="2" fill="#4f86e6"/><rect x="837" y="156" width="96" height="2" fill="#4f86e6"/><rect x="933" y="155" width="48" height="2" fill="#4f86e6"/></g><polygon points="984,7 993,7 988.5,12" fill="#778899" shape-rendering="crispEdges"/><g clip-path="url(#cs)"><line x1="5" y1="480.5" x2="1237" y2="480.5" stroke="#ffff00" stroke-width="1" stroke-dasharray="3,3" shape-rendering="crispEdges"/><line x1="5" y1="485.5" x2="1237" y2="485.5" stroke="#ffff00" stroke-width="1" stroke-dasharray="3,3" shape-rendering="crispEdges"/><polyline points="4.5,521.2 12.5,521.2 20.5,509 28.5,490.3 36.5,473 44.5,471.5 52.5,480 60.5,474.3 68.5,461.2 76.5,448 84.5,448 92.5,452.8 100.5,460.3 108.5,464 116.5,459.3 124.5,458 132.5,456.5 140.5,464 148.5,466.3 156.5,466.8 164.5,459.3 172.5,451.8 180.5,444.3 188.5,442.4 196.5,442.4 204.5,443.4 212.5,450.9 220.5,460.3 228.5,469.6 236.5,473.6 244.5,483.7 252.5,498.7 260.5,516.5 268.5,520.3 276.5,521.2 284.5,522.2 292.5,522.2 300.5,518.4 308.5,516.5 316.5,509 324.5,500.6 332.5,484.7 340.5,480 348.5,480.9 356.5,482.4 364.5,478.1 372.5,478.1 380.5,483.2 388.5,508.1 396.5,507.2 404.5,497.8 412.5,486.5 420.5,477.5 428.5,487.5 436.5,473.4 444.5,462.1 452.5,448.6 460.5,448.6 468.5,447.1 476.5,445.6 484.5,445.6 492.5,445.6 500.5,453.7 508.5,457.5 516.5,455 524.5,450.5 532.5,451.8 540.5,455.6 548.5,458 556.5,457.5 564.5,454.6 572.5,450 580.5,450.5 588.5,460.3 596.5,459.3 604.5,461.2 612.5,455.6 620.5,462.1 628.5,461.2 636.5,455.6 644.5,451.4 652.5,457.5 660.5,475.3 668.5,492.2 676.5,497.8 684.5,496.9 692.5,487.5 700.5,491.2 708.5,493.1 716.5,498.7 724.5,488.4 732.5,477.2 740.5,457.5 748.5,452.8 756.5,447.5 764.5,449 772.5,448 780.5,447.1 788.5,444.9 796.5,443.4 804.5,446.2 812.5,448 820.5,450.5 828.5,449.9 836.5,457.5 844.5,470.6 852.5,487.5 860.5,501.9 868.5,502.5 876.5,504.9 884.5,479 892.5,454.6 900.5,444.4 908.5,443.1 916.5,446.8 924.5,448.6 932.5,452.3 940.5,454.1 948.5,454.1 956.5,463.3 964.5,474.2 972.5,501 980.5,502.3" fill="none" stroke="#20b2aa" stroke-width="1" shape-rendering="crispEdges"/><polyline points="4.5,514.7 12.5,519.4 20.5,516.5 28.5,505.3 36.5,490.3 44.5,477.5 52.5,475.3 60.5,475.3 68.5,471.5 76.5,460.3 84.5,452.8 92.5,450.9 100.5,455.6 108.5,460.3 116.5,461.2 124.5,460.3 132.5,458.4 140.5,459.3 148.5,462.1 156.5,465 164.5,463.1 172.5,458.8 180.5,450 188.5,444.3 196.5,443 204.5,442.4 212.5,445.6 220.5,450 228.5,458.4 236.5,466.8 244.5,476.2 252.5,488.4 260.5,502.5 268.5,512.8 276.5,519.4 284.5,521.2 292.5,522.2 300.5,521.2 308.5,519.4 316.5,514.7 324.5,509 332.5,497.8 340.5,488.4 348.5,481.8 356.5,481.8 364.5,480 372.5,479 380.5,480 388.5,490.3 396.5,499.7 404.5,504.4 412.5,495.9 420.5,487.5 428.5,483.2 436.5,479 444.5,472.5 452.5,461.2 460.5,451.8 468.5,448.6 476.5,447.1 484.5,446.4 492.5,445.6 500.5,449 508.5,452.4 516.5,455.6 524.5,454.3 532.5,452.4 540.5,452.8 548.5,455 556.5,457.5 564.5,456.1 572.5,454.6 580.5,451.3 588.5,453.1 596.5,455.6 604.5,459.3 612.5,458.4 620.5,459 628.5,459.3 636.5,459 644.5,456.1 652.5,455.6 660.5,462.1 668.5,478.1 676.5,489.3 684.5,495.9 692.5,494 700.5,492.2 708.5,490.3 716.5,494.4 724.5,493.1 732.5,487.5 740.5,471.5 748.5,462.1 756.5,452.4 764.5,450.5 772.5,448.6 780.5,448 788.5,446.2 796.5,444.3 804.5,444.3 812.5,446.2 820.5,448 828.5,449.4 836.5,452.8 844.5,459.3 852.5,473.4 860.5,488.4 868.5,498.7 876.5,503.8 884.5,495 892.5,477.2 900.5,460.2 908.5,447.4 916.5,445.6 924.5,446.2 932.5,449.6 940.5,451.7 948.5,453.3 956.5,456.6 964.5,463.3 972.5,480.3 980.5,492.5" fill="none" stroke="#ff0000" stroke-width="1" shape-rendering="crispEdges"/></g><g clip-path="url(#ca)"><rect x="5" y="575" width="1232" height="2" fill="#ff00ff"/><polyline points="4.5,611.5 12.5,614.7 20.5,603 28.5,597.4 36.5,593.3 44.5,594 52.5,608.3 60.5,606.4 68.5,594.6 76.5,586.5 84.5,582.4 92.5,584 100.5,589 108.5,588 116.5,584.3 124.5,579.6 132.5,585.2 140.5,592.7 148.5,599.3 156.5,603.4 164.5,602 172.5,599 180.5,608.7 188.5,618 196.5,624 204.5,623.3 212.5,620.3 220.5,618.4 228.5,624.6 236.5,633 244.5,624.2 252.5,624.2 260.5,616.6 268.5,613.4 276.5,609.2 284.5,613.4 292.5,616.2 300.5,614.3 308.5,605.9 316.5,597.4 324.5,597.4 332.5,596.5 340.5,595.2 348.5,590.3 356.5,593.3 364.5,588.4 372.5,588.4 380.5,591.4 388.5,593.3 396.5,591.4 404.5,582.4 412.5,579.2 420.5,583 428.5,585.2 436.5,571.5 444.5,571.2 452.5,569 460.5,567.4 468.5,568 476.5,574 484.5,579 492.5,578.3 500.5,572.7 508.5,571.5 516.5,556.5 524.5,558 532.5,559.5 540.5,562.7 548.5,573 556.5,567.8 564.5,566.5 572.5,570.8 580.5,577.2 588.5,576.8 596.5,563.6 604.5,557.6 612.5,561.4 620.5,567.8 628.5,592.7 636.5,588.4 644.5,588.4 652.5,579.6 660.5,578.7 668.5,585.2 676.5,588 684.5,589.2 692.5,585.2 700.5,577.2 708.5,589 716.5,596 724.5,599.3 732.5,599.3 740.5,588.4 748.5,592.7 756.5,597 764.5,581.5 772.5,580.2 780.5,577.7 788.5,562.7 796.5,552 804.5,548.3 812.5,553.3 820.5,557 828.5,557 836.5,546.8 844.5,536.4 852.5,541.1 860.5,541.1 868.5,537 876.5,562.1 884.5,551.5 892.5,543.4 900.5,558 908.5,566.5 916.5,571.2 924.5,574.3 932.5,570.2 940.5,562.2 948.5,571.2 956.5,575.3 964.5,582.5 972.5,583.4 980.5,589.7" fill="none" stroke="#1e90ff" stroke-width="1" shape-rendering="crispEdges"/></g><rect x="3" y="6" width="1235" height="1" fill="#000"/><rect x="3" y="434" width="1235" height="1" fill="#000"/><rect x="3" y="6" width="1" height="429" fill="#000"/><rect x="1237" y="6" width="1" height="429" fill="#000"/><rect x="3" y="436" width="1235" height="1" fill="#000"/><rect x="3" y="528" width="1235" height="1" fill="#000"/><rect x="3" y="436" width="1" height="93" fill="#000"/><rect x="1237" y="436" width="1" height="93" fill="#000"/><rect x="3" y="530" width="1235" height="1" fill="#000"/><rect x="3" y="638" width="1235" height="1" fill="#000"/><rect x="3" y="530" width="1" height="109" fill="#000"/><rect x="1237" y="530" width="1" height="109" fill="#000"/><rect x="1238" y="16" width="2" height="1" fill="#000"/><rect x="1238" y="48" width="2" height="1" fill="#000"/><rect x="1238" y="80" width="2" height="1" fill="#000"/><rect x="1238" y="112" width="2" height="1" fill="#000"/><rect x="1238" y="144" width="2" height="1" fill="#000"/><rect x="1238" y="176" width="2" height="1" fill="#000"/><rect x="1238" y="208" width="2" height="1" fill="#000"/><rect x="1238" y="240" width="2" height="1" fill="#000"/><rect x="1238" y="272" width="2" height="1" fill="#000"/><rect x="1238" y="304" width="2" height="1" fill="#000"/><rect x="1238" y="336" width="2" height="1" fill="#000"/><rect x="1238" y="368" width="2" height="1" fill="#000"/><rect x="1238" y="400" width="2" height="1" fill="#000"/><rect x="1238" y="432" width="2" height="1" fill="#000"/><rect x="1238" y="438" width="1" height="1" fill="#000"/><rect x="1238" y="480" width="1" height="1" fill="#000"/><rect x="1238" y="485" width="1" height="1" fill="#000"/><rect x="1238" y="527" width="1" height="1" fill="#000"/><rect x="1238" y="532" width="1" height="1" fill="#000"/><rect x="1238" y="637" width="1" height="1" fill="#000"/><rect x="4" y="639" width="1" height="3" fill="#000"/><rect x="68" y="639" width="1" height="3" fill="#000"/><rect x="132" y="639" width="1" height="3" fill="#000"/><rect x="196" y="639" width="1" height="3" fill="#000"/><rect x="260" y="639" width="1" height="3" fill="#000"/><rect x="324" y="639" width="1" height="3" fill="#000"/><rect x="388" y="639" width="1" height="3" fill="#000"/><rect x="452" y="639" width="1" height="3" fill="#000"/><rect x="516" y="639" width="1" height="3" fill="#000"/><rect x="580" y="639" width="1" height="3" fill="#000"/><rect x="644" y="639" width="1" height="3" fill="#000"/><rect x="708" y="639" width="1" height="3" fill="#000"/><rect x="772" y="639" width="1" height="3" fill="#000"/><rect x="836" y="639" width="1" height="3" fill="#000"/><rect x="900" y="639" width="1" height="3" fill="#000"/><rect x="964" y="639" width="1" height="3" fill="#000"/><rect x="0" y="0" width="1279" height="2" fill="#ece9d8"/><rect x="0" y="2" width="1279" height="1" fill="#bfbcab"/><rect x="0" y="3" width="1277" height="1" fill="#716f64"/><rect x="0" y="3" width="1" height="653" fill="#716f64"/><rect x="1277" y="2" width="1" height="654" fill="#f1efe2"/><rect x="398" y="0" width="1" height="3" fill="#aca899"/><rect x="399" y="0" width="1" height="2" fill="#ffffff"/><rect x="405" y="0" width="1" height="3" fill="#aca899"/><rect x="406" y="0" width="1" height="2" fill="#ffffff"/><rect x="733" y="0" width="1" height="3" fill="#aca899"/><rect x="734" y="0" width="1" height="2" fill="#ffffff"/><rect x="994" y="0" width="1" height="3" fill="#aca899"/><rect x="995" y="0" width="1" height="2" fill="#ffffff"/><rect x="443" y="0" width="27" height="1" fill="#ffffff"/><rect x="443" y="1" width="27" height="1" fill="#f6f5ee"/><rect x="567" y="0" width="27" height="1" fill="#ffffff"/><rect x="567" y="1" width="27" height="1" fill="#f6f5ee"/><rect x="595" y="0" width="27" height="1" fill="#ffffff"/><rect x="595" y="1" width="27" height="1" fill="#f6f5ee"/><rect x="883" y="0" width="27" height="1" fill="#ffffff"/><rect x="883" y="1" width="27" height="1" fill="#f6f5ee"/><rect x="1004" y="0" width="27" height="1" fill="#ffffff"/><rect x="1004" y="1" width="27" height="1" fill="#f6f5ee"/><rect x="1239" y="73" width="38" height="11" fill="#000"/><rect x="1239" y="570" width="38" height="11" fill="#ff00ff"/><g text-rendering="geometricPrecision" stroke-width="0.12" style="font-family:'Liberation Sans',Arial,sans-serif;font-size:9.8px"><text x="8.4" y="18" fill="#000" stroke="#000" textLength="200.9" lengthAdjust="spacingAndGlyphs">EURUSD,H4&#160;&#160;1.34504 1.34562 1.34489 1.34553</text><text x="7.4" y="450" fill="#000" stroke="#000" textLength="122.9" lengthAdjust="spacingAndGlyphs">Stoch(9,3,3) 28.2778 38.5555</text><text x="8.4" y="544" fill="#000" stroke="#000" textLength="65.9" lengthAdjust="spacingAndGlyphs">ATR(14) 0.0047</text><text x="1243" y="19" fill="#000" stroke="#000" textLength="33.9" lengthAdjust="spacingAndGlyphs">1.36260</text><text x="1243" y="51" fill="#000" stroke="#000" textLength="33.9" lengthAdjust="spacingAndGlyphs">1.35385</text><text x="1243" y="115" fill="#000" stroke="#000" textLength="33.9" lengthAdjust="spacingAndGlyphs">1.33685</text><text x="1243" y="147" fill="#000" stroke="#000" textLength="33.9" lengthAdjust="spacingAndGlyphs">1.32810</text><text x="1243" y="179" fill="#000" stroke="#000" textLength="33.9" lengthAdjust="spacingAndGlyphs">1.31960</text><text x="1243" y="211" fill="#000" stroke="#000" textLength="33.9" lengthAdjust="spacingAndGlyphs">1.31110</text><text x="1243" y="243" fill="#000" stroke="#000" textLength="33.9" lengthAdjust="spacingAndGlyphs">1.30235</text><text x="1243" y="275" fill="#000" stroke="#000" textLength="33.9" lengthAdjust="spacingAndGlyphs">1.29385</text><text x="1243" y="307" fill="#000" stroke="#000" textLength="33.9" lengthAdjust="spacingAndGlyphs">1.28535</text><text x="1243" y="339" fill="#000" stroke="#000" textLength="33.9" lengthAdjust="spacingAndGlyphs">1.27685</text><text x="1243" y="371" fill="#000" stroke="#000" textLength="33.9" lengthAdjust="spacingAndGlyphs">1.26810</text><text x="1243" y="403" fill="#000" stroke="#000" textLength="33.9" lengthAdjust="spacingAndGlyphs">1.25960</text><text x="1243" y="435" fill="#000" stroke="#000" textLength="33.9" lengthAdjust="spacingAndGlyphs">1.25110</text><text x="1243" y="82" fill="#fff" stroke="#fff" textLength="33.9" lengthAdjust="spacingAndGlyphs">1.34553</text><text x="1241.4" y="447" fill="#000" stroke="#000" textLength="15.9" lengthAdjust="spacingAndGlyphs">100</text><text x="1240.4" y="483" fill="#000" stroke="#000" textLength="18.9" lengthAdjust="spacingAndGlyphs">52.5</text><text x="1240.4" y="488" fill="#000" stroke="#000" textLength="18.9" lengthAdjust="spacingAndGlyphs">47.5</text><text x="1240.4" y="525" fill="#000" stroke="#000" textLength="5.9" lengthAdjust="spacingAndGlyphs">0</text><text x="1241.4" y="541" fill="#000" stroke="#000" textLength="23.9" lengthAdjust="spacingAndGlyphs">0.007</text><text x="1242.2" y="579" fill="#fff" stroke="#fff" textLength="34.1" lengthAdjust="spacingAndGlyphs">0.00522</text><text x="1240.4" y="635" fill="#000" stroke="#000" textLength="29.9" lengthAdjust="spacingAndGlyphs">0.0028</text><text x="2.4" y="651" fill="#000" stroke="#000" textLength="53.9" lengthAdjust="spacingAndGlyphs">31 Aug 2010</text><text x="67.4" y="651" fill="#000" stroke="#000" textLength="49.9" lengthAdjust="spacingAndGlyphs">1 Sep 08:00</text><text x="131.4" y="651" fill="#000" stroke="#000" textLength="49.9" lengthAdjust="spacingAndGlyphs">2 Sep 16:00</text><text x="195.4" y="651" fill="#000" stroke="#000" textLength="49.9" lengthAdjust="spacingAndGlyphs">6 Sep 00:00</text><text x="259.4" y="651" fill="#000" stroke="#000" textLength="49.9" lengthAdjust="spacingAndGlyphs">7 Sep 08:00</text><text x="323.4" y="651" fill="#000" stroke="#000" textLength="49.9" lengthAdjust="spacingAndGlyphs">8 Sep 16:00</text><text x="386.4" y="651" fill="#000" stroke="#000" textLength="55.9" lengthAdjust="spacingAndGlyphs">10 Sep 00:00</text><text x="450.4" y="651" fill="#000" stroke="#000" textLength="55.9" lengthAdjust="spacingAndGlyphs">13 Sep 08:00</text><text x="514.4" y="651" fill="#000" stroke="#000" textLength="55.9" lengthAdjust="spacingAndGlyphs">14 Sep 16:00</text><text x="578.4" y="651" fill="#000" stroke="#000" textLength="55.9" lengthAdjust="spacingAndGlyphs">16 Sep 00:00</text><text x="643.4" y="651" fill="#000" stroke="#000" textLength="54.9" lengthAdjust="spacingAndGlyphs">17 Sep 08:00</text><text x="706.4" y="651" fill="#000" stroke="#000" textLength="56.9" lengthAdjust="spacingAndGlyphs">20 Sep 16:00</text><text x="770.4" y="651" fill="#000" stroke="#000" textLength="56.9" lengthAdjust="spacingAndGlyphs">22 Sep 00:00</text><text x="834.4" y="651" fill="#000" stroke="#000" textLength="56.9" lengthAdjust="spacingAndGlyphs">23 Sep 08:00</text><text x="898.4" y="651" fill="#000" stroke="#000" textLength="56.9" lengthAdjust="spacingAndGlyphs">24 Sep 16:00</text><text x="962.4" y="651" fill="#000" stroke="#000" textLength="55.9" lengthAdjust="spacingAndGlyphs">28 Sep 00:00</text></g></svg>
</body></html>
